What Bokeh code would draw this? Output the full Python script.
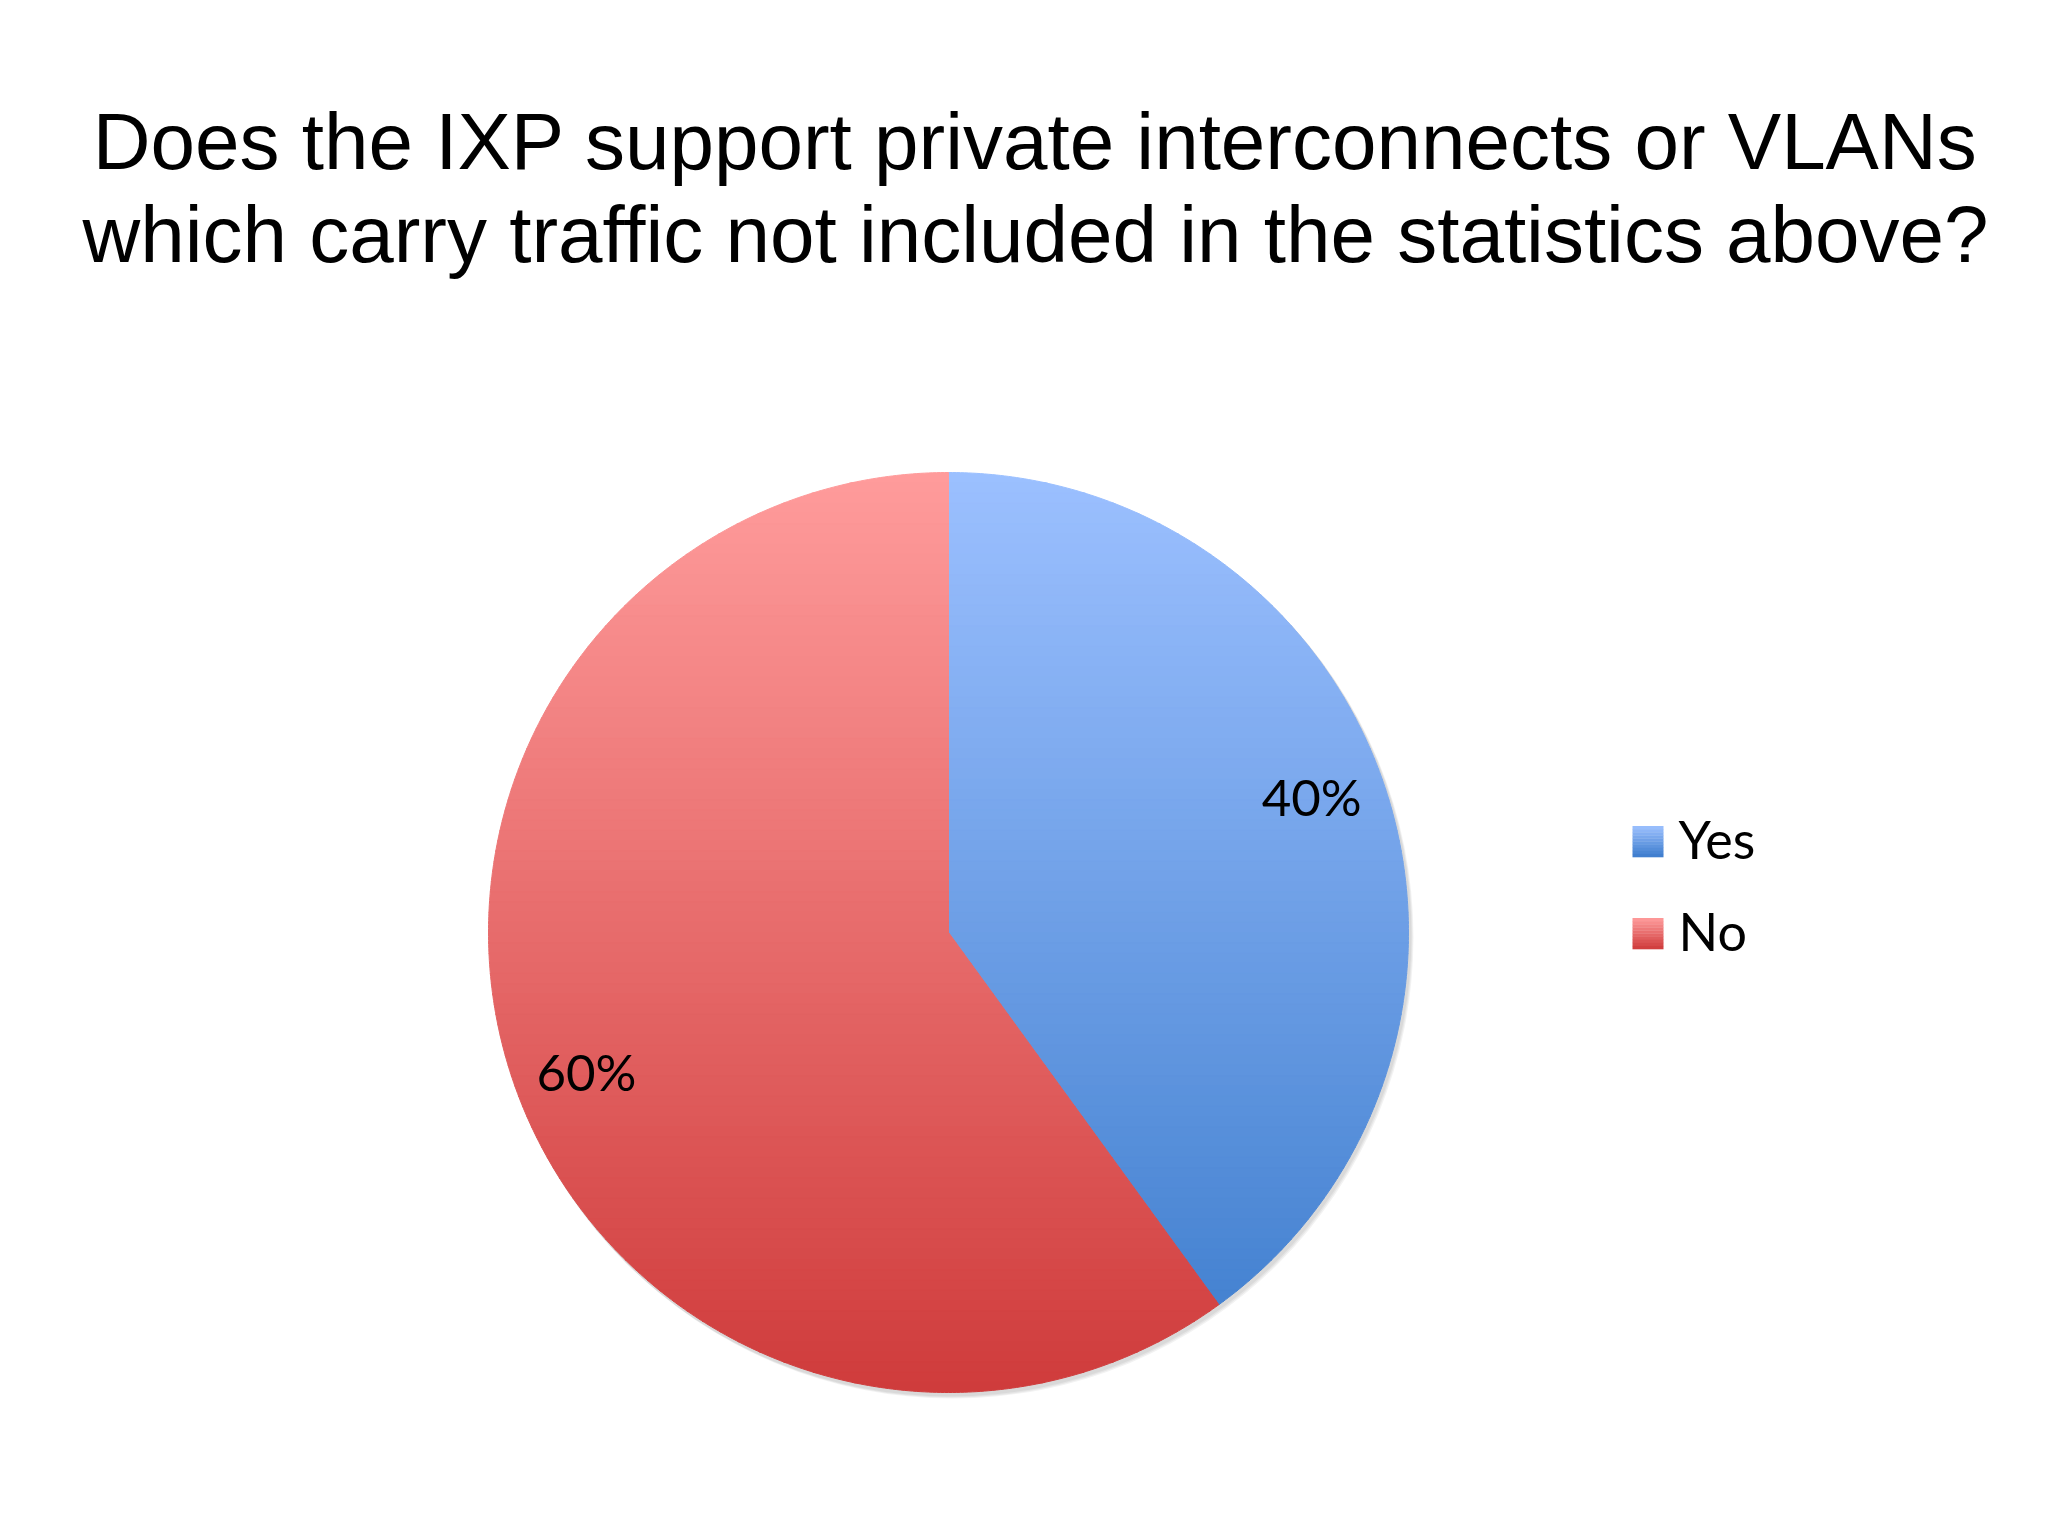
import math
from bokeh.plotting import figure
from bokeh.models import Range1d
from bokeh.core.properties import value
from bokeh.embed import file_html
from bokeh.resources import INLINE

# ---- data ----
categories = ["Yes", "No"]
values = [40, 60]
labels = ["40%", "60%"]
top_colors = ["#9cc0ff", "#ff9c9c"]
bottom_colors = ["#3c7ccc", "#cf3b3b"]
title_lines = ["Does the IXP support private interconnects or VLANs",
               "which carry traffic not included in the statistics above?"]

# ---- layout constants (page pixels) ----
W, H = 2032, 1520
CX, CY, R = 948, 932, 460

p = figure(width=W, height=H, output_backend="svg", toolbar_location=None,
           x_range=Range1d(0, W), y_range=Range1d(H, 0),
           min_border=0)
p.axis.visible = False
p.grid.visible = False
p.outline_line_color = None
p.background_fill_color = "white"


def hex2rgb(h):
    h = h.lstrip("#")
    return tuple(int(h[i:i + 2], 16) for i in (0, 2, 4))


def lerp_color(c1, c2, t):
    a, b = hex2rgb(c1), hex2rgb(c2)
    return "#%02x%02x%02x" % tuple(int(round(a[i] + (b[i] - a[i]) * t)) for i in range(3))


def clip(poly, ylo, yhi):
    def clip_edge(pts, inside, inter):
        out = []
        n = len(pts)
        for i in range(n):
            cur, prev = pts[i], pts[i - 1]
            if inside(cur):
                if not inside(prev):
                    out.append(inter(prev, cur))
                out.append(cur)
            elif inside(prev):
                out.append(inter(prev, cur))
        return out

    def inter_y(y0):
        def f(a, b):
            t = (y0 - a[1]) / (b[1] - a[1])
            return (a[0] + t * (b[0] - a[0]), y0)
        return f

    pts = clip_edge(poly, lambda q: q[1] >= ylo, inter_y(ylo))
    if not pts:
        return []
    pts = clip_edge(pts, lambda q: q[1] <= yhi, inter_y(yhi))
    return pts


# soft shadow
for k, a in enumerate([0.05, 0.05, 0.05]):
    p.circle(x=[CX + 2 + k], y=[CY + 3 + k], radius=R + 1, fill_color="#000000",
             fill_alpha=a, line_color=None)

# slices as gradient bands
total = sum(values)
start = 90.0
NB = 90
xs, ys, fc = [], [], []
slice_angles = []
for i, v in enumerate(values):
    sweep = 360.0 * v / total
    a0, a1 = start, start - sweep
    slice_angles.append((a0, a1))
    npts = max(8, int(sweep * 2))
    poly = [(CX, CY)]
    for j in range(npts + 1):
        th = math.radians(a0 + (a1 - a0) * j / npts)
        poly.append((CX + R * math.cos(th), CY - R * math.sin(th)))
    for b in range(NB):
        ylo = CY - R + 2 * R * b / NB
        yhi = CY - R + 2 * R * (b + 1) / NB
        part = clip(poly, ylo, yhi + 0.6)
        if len(part) < 3:
            continue
        t = (b + 0.5) / NB
        xs.append([q[0] for q in part])
        ys.append([q[1] for q in part])
        fc.append(lerp_color(top_colors[i], bottom_colors[i], t))
    start = a1

p.patches(xs=xs, ys=ys, fill_color=fc, line_color=fc, line_width=1)

# percentage labels
for i, lab in enumerate(labels):
    a0, a1 = slice_angles[i]
    mid = math.radians((a0 + a1) / 2 + (2.5 if i == 0 else 3))
    lx = CX + 0.843 * R * math.cos(mid)
    ly = CY - 0.843 * R * math.sin(mid)
    p.text(x=[lx], y=[ly], text=[lab], text_font=value("Lato"),
           text_font_size="51px", text_align="center", text_baseline="middle",
           text_color="#000000")

# legend
LX, LY0, LDY, S = 1632, 841, 92, 31
for i, cat in enumerate(categories):
    y0 = LY0 + i * LDY
    nb = 10
    for b in range(nb):
        t = (b + 0.5) / nb
        c = lerp_color(top_colors[i], bottom_colors[i], t)
        p.quad(left=[LX], right=[LX + S], top=[y0 - S / 2 + S * b / nb],
               bottom=[y0 - S / 2 + S * (b + 1) / nb + 0.3],
               fill_color=c, line_color=None)
    p.text(x=[LX + 46], y=[y0 - 3], text=[cat], text_font=value("Lato"),
           text_font_size="52px", text_align="left", text_baseline="middle",
           text_color="#000000")

# title
for k, line in enumerate(title_lines):
    p.text(x=[1035], y=[141 + 93 * k], text=[line],
           text_font=value("Liberation Sans"), text_font_size="80px",
           text_align="center", text_baseline="middle", text_color="#000000")

open("out.html", "w").write(file_html(p, INLINE))
